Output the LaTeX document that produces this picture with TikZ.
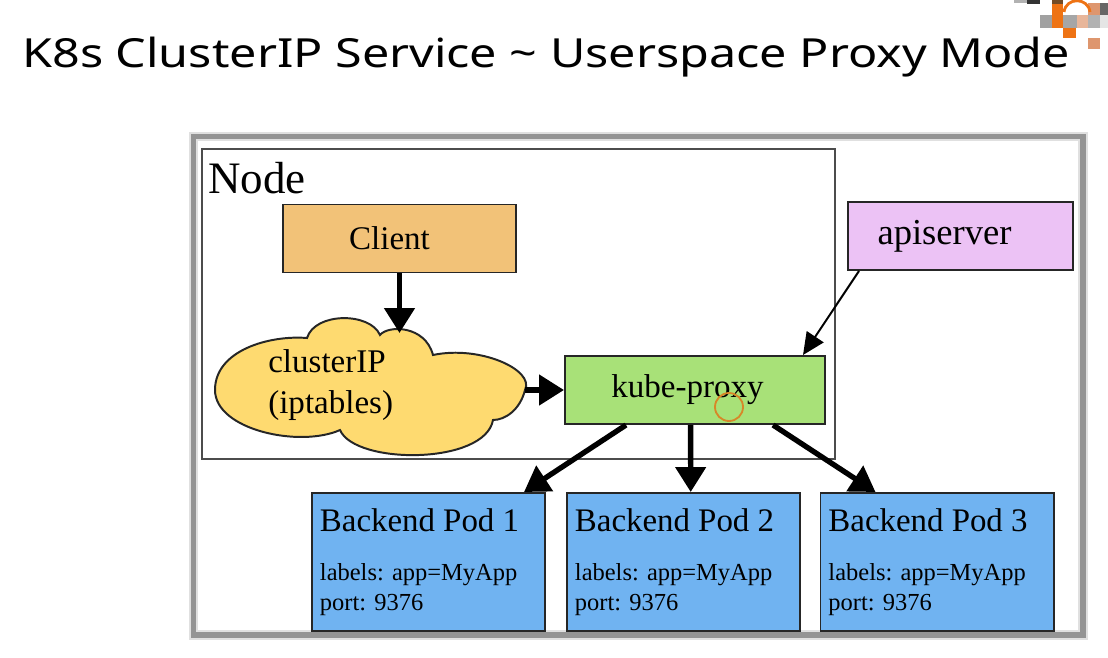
\documentclass[tikz,border=0pt]{standalone}
\usepackage{fontspec}
\setmainfont{Liberation Serif}
\newfontfamily\titlefont[FakeStretch=1.21]{Noto Sans}
\usetikzlibrary{arrows.meta}

\definecolor{clientfill}{RGB}{242,194,120}
\definecolor{apifill}{RGB}{236,194,245}
\definecolor{cloudfill}{RGB}{254,218,112}
\definecolor{proxyfill}{RGB}{168,225,120}
\definecolor{podfill}{RGB}{112,179,241}
\definecolor{cursorring}{RGB}{215,135,40}
\definecolor{logoorange}{RGB}{238,115,20}
\definecolor{logosalmon}{RGB}{222,150,110}

\tikzset{
  box/.style={draw=black!85, line width=1.4pt, minimum height=1.7cm, inner sep=0pt,
    font=\fontsize{23.5}{28}\selectfont},
  pod/.style={box, fill=podfill, minimum width=5.825cm, minimum height=3.45cm,
    text width=5.425cm, inner xsep=0.2cm, align=left,
    font=\fontsize{17.4}{21.3}\selectfont\frenchspacing},
  bigarrow/.style={line width=3.8pt, -{Triangle[length=0.62cm,width=0.74cm]}},
  smallarrow/.style={line width=1.4pt, -{Triangle[length=0.55cm,width=0.5cm]}}
}

\begin{document}
\begin{tikzpicture}[x=0.025cm, y=-0.025cm]
\useasboundingbox[fill=white] (0,0) rectangle (1108,657);

% title
\node[anchor=base west, inner sep=0pt, font=\titlefont\fontsize{28.5}{34}\selectfont] (title)
  at (22,67) {K8s ClusterIP Service \textasciitilde{} Userspace Proxy Mode};

% logo corner
\fill[black!80] (1027,0) rectangle (1040,4);
\fill[black!30] (1014,0) rectangle (1027,3);
\fill[brown!60!black] (1052,0) rectangle (1063,4);
\fill[logoorange] (1052,4) rectangle (1063,28);
\fill[logosalmon] (1088,3) rectangle (1100,15);
\fill[black!60] (1100,3) rectangle (1108,15);
\fill[black!37] (1040,15) rectangle (1052,28);
\fill[black!35] (1063,15) rectangle (1077,28);
\fill[logosalmon!70] (1077,15) rectangle (1088,28);
\fill[black!30] (1088,15) rectangle (1100,28);
\fill[black!10] (1100,15) rectangle (1108,28);
\fill[logoorange] (1063,28) rectangle (1076,38);
\fill[logosalmon] (1088,38) rectangle (1100,49);
\draw[logoorange, line width=2pt] (1064,12) .. controls (1066,-3) and (1088,-3) .. (1090,12);

% outer frame
\draw[black!12, line width=7pt] (193.5,136.5) rectangle (1083,635);
\draw[black!42, line width=4pt] (193.5,136.5) rectangle (1083,635);

% Node frame
\draw[black!70, line width=1pt] (202,149) rectangle (835,459);
\node[anchor=base west, inner sep=0pt, font=\fontsize{32}{38}\selectfont] (nodelbl)
  at (208,193) {Node};

% boxes
\node[box, fill=clientfill, minimum width=5.825cm] (client) at (399.5,238.5)
  {Client\kern0.5cm};
\node[box, fill=apifill, minimum width=5.625cm, font=\fontsize{26}{30}\selectfont]
  (api) at (960.5,236) {apiserver\kern0.8cm};
\node[box, fill=proxyfill, minimum width=6.5cm] (proxy) at (695,390)
  {kube-proxy\kern0.375cm};

% clusterIP cloud
\draw[black!85, line width=1.4pt, fill=cloudfill]
  (340,430) .. controls (300,448) and (215,430) .. (215,390)
  .. controls (215,350) and (270,335) .. (307,338)
  .. controls (315,312) and (370,312) .. (380,335)
  .. controls (388,325) and (425,325) .. (433,355)
  .. controls (480,345) and (535,370) .. (525,390)
  .. controls (520,410) and (505,420) .. (493,420)
  .. controls (485,465) and (355,465) .. (340,430) -- cycle;
\node[anchor=base west, inner sep=0pt, align=left, font=\fontsize{23.5}{28.5}\selectfont]
  (cip) at (268,413) {clusterIP\\(iptables)};
\coordinate (cipN) at (399.5,333);
\coordinate (cipE) at (525,390);

% pods
\node[pod] (pod1) at (428.5,562)
  {{\fontsize{23.4}{27}\selectfont Backend Pod 1}\\[13.6pt]labels: app=MyApp\\port: 9376};
\node[pod] (pod2) at (683.5,562)
  {{\fontsize{23.4}{27}\selectfont Backend Pod 2}\\[13.6pt]labels: app=MyApp\\port: 9376};
\node[pod] (pod3) at (937,562)
  {{\fontsize{23.4}{27}\selectfont Backend Pod 3}\\[13.6pt]labels: app=MyApp\\port: 9376};

% arrows
\draw[bigarrow] (client) -- (cipN);
\draw[bigarrow] (cipE) -- (proxy);
\draw[smallarrow] ([xshift=0.3cm]api.south west) -- ([xshift=-0.575cm]proxy.north east);
\draw[bigarrow] ([xshift=1.55cm]proxy.south west) -- ([xshift=-0.55cm]pod1.north east);
\draw[bigarrow] ([xshift=-0.11cm]proxy.south) -- ([xshift=0.18cm]pod2.north);
\draw[bigarrow] ([xshift=-1.325cm]proxy.south east) -- ([xshift=1.4cm]pod3.north west);

% cursor mark
\draw[cursorring, line width=1.3pt] (729,407) circle (0.35cm);
\end{tikzpicture}
\end{document}
